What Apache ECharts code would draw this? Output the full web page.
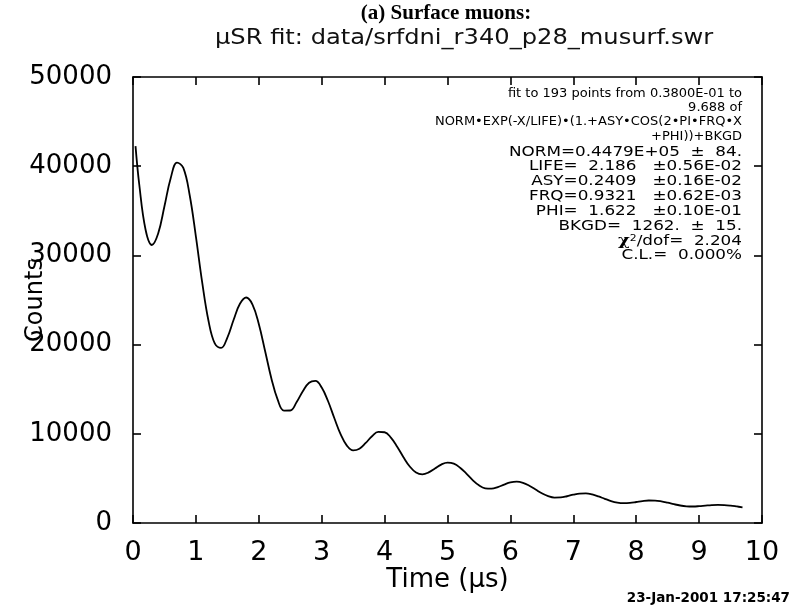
<!DOCTYPE html>
<html>
<head>
<meta charset="utf-8">
<script src="https://cdn.jsdelivr.net/npm/echarts@6/dist/echarts.min.js"></script>
<style>
html,body{margin:0;padding:0;background:#fff;}
#chart{width:795px;height:612px;}
</style>
</head>
<body>
<div id="chart"></div>
<script>
// Time (µs) of sampled points on the curve
const times = [0.04,0.1,0.2,0.3,0.4,0.5,0.6,0.7,0.8,0.9,
  1.0,1.1,1.2,1.3,1.4,1.5,1.6,1.7,1.8,1.9,
  2.0,2.1,2.2,2.3,2.4,2.5,2.6,2.7,2.8,2.9,
  3.0,3.1,3.2,3.3,3.4,3.5,3.6,3.7,3.8,3.9,
  4.0,4.1,4.2,4.3,4.4,4.5,4.6,4.7,4.8,4.9,
  5.0,5.1,5.2,5.3,5.4,5.5,5.6,5.7,5.8,5.9,
  6.0,6.1,6.2,6.3,6.4,6.5,6.6,6.7,6.8,6.9,
  7.0,7.1,7.2,7.3,7.4,7.5,7.6,7.7,7.8,7.9,
  8.0,8.1,8.2,8.3,8.4,8.5,8.6,8.7,8.8,8.9,
  9.0,9.1,9.2,9.3,9.4,9.5,9.6,9.69];
// Counts
const counts = [42258,37920,32880,31165,32452,35509,38678,40409,39806,36796,
  32115,26982,22678,20127,19623,20794,22789,24573,25278,24491,
  22308,19286,16209,13826,12605,12613,13529,14773,15728,15926,
  15193,13675,11766,9956,8673,8137,8320,8974,9725,10205,
  10173,9577,8554,7373,6332,5662,5462,5672,6111,6551,
  6765,6650,6202,5531,4814,4227,3893,3846,4026,4309,
  4550,4634,4505,4184,3754,3327,3005,2849,2863,2999,
  3174,3301,3318,3203,2984,2714,2464,2292,2226,2259,
  2354,2458,2520,2509,2419,2272,2106,1963,1875,1852,
  1886,1949,2008,2035,2015,1948,1853,1760];
const xTickLabels = ['0','1','2','3','4','5','6','7','8','9','10'];
const yTickLabels = ['0','10000','20000','30000','40000','50000'];
const fitLines = [
  'fit to 193 points from 0.3800E-01 to',
  '9.688 of',
  'NORM\u2022EXP(-X/LIFE)\u2022(1.+ASY\u2022COS(2\u2022PI\u2022FRQ\u2022X',
  '+PHI))+BKGD'
];
const paramLines = [
  'NORM=0.4479E+05  \u00b1  84.',
  'LIFE=  2.186   \u00b10.56E-02',
  'ASY=0.2409   \u00b10.16E-02',
  'FRQ=0.9321   \u00b10.62E-03',
  'PHI=  1.622   \u00b10.10E-01',
  'BKGD=  1262.  \u00b1  15.',
  '{b|\u03c7}{s|2}/dof=  2.204',
  'C.L.=  0.000%'
];

const chart = echarts.init(document.getElementById('chart'), null, {renderer:'canvas'});
const data = times.map((t,i)=>[t,counts[i]]);
const lab = 'DejaVu Sans';
function axisBase(){
  return {
    type:'value',
    axisLine:{show:true,onZero:false,lineStyle:{color:'#000',width:1.6}},
    axisTick:{show:true,inside:true,length:8,lineStyle:{color:'#000',width:1.6}},
    splitLine:{show:false}
  };
}
const textBlocks = [];
fitLines.forEach((s,i)=>{
  textBlocks.push({type:'text',x:742,y:87+i*14.3,scaleX:1.0,style:{text:s,x:0,y:0,font:'13px "DejaVu Sans"',fill:'#000',textAlign:'right'}});
});
paramLines.forEach((s,i)=>{
  textBlocks.push({type:'text',x:742,y:145+i*14.8,scaleX:1.2,style:{
    text:s,x:0,y:0,font:'14px "DejaVu Sans"',fill:'#000',textAlign:'right',
    rich:{b:{font:'bold 15px "DejaVu Serif"',fill:'#000'},s:{font:'9px "DejaVu Sans"',fill:'#000',verticalAlign:'top',padding:[0,0,6,0]}}
  }});
});

chart.setOption({
  backgroundColor:'#fff',
  animation:false,
  grid:{left:133,right:33,top:77,bottom:89,containLabel:false,outerBoundsMode:'none'},
  xAxis:[
    Object.assign(axisBase(),{min:0,max:10,interval:1,position:'bottom',
      name:'Time (\u03bcs)',nameLocation:'middle',nameGap:44,nameMoveOverlap:false,
      nameTextStyle:{fontFamily:lab,fontSize:26,color:'#000'},
      axisLabel:{show:true,margin:16,fontFamily:lab,fontSize:27,color:'#000',
        formatter:(v)=>xTickLabels[Math.round(v)]}}),
    Object.assign(axisBase(),{min:0,max:10,interval:1,position:'top',axisLabel:{show:false}})
  ],
  yAxis:[
    Object.assign(axisBase(),{min:0,max:50000,interval:10000,position:'left',
      name:'Counts',nameLocation:'middle',nameGap:85,nameRotate:90,nameMoveOverlap:false,
      nameTextStyle:{fontFamily:lab,fontSize:24,color:'#000'},
      axisLabel:{show:true,margin:21,fontFamily:lab,fontSize:26,color:'#000',
        formatter:(v)=>yTickLabels[Math.round(v/10000)]}}),
    Object.assign(axisBase(),{min:0,max:50000,interval:10000,position:'right',axisLabel:{show:false}})
  ],
  series:[{
    type:'line',data:data,smooth:0.4,showSymbol:false,
    lineStyle:{color:'#000',width:1.8},xAxisIndex:0,yAxisIndex:0
  }],
  graphic:[
    {type:'text',x:446,y:3,style:{text:'(a) Surface muons:',x:0,y:0,font:'bold 21px "Liberation Serif"',fill:'#000',textAlign:'center'}},
    {type:'text',x:215,y:28,scaleX:1.15,style:{text:'\u03bcSR fit: data/srfdni_r340_p28_musurf.swr',x:0,y:0,font:'21px "DejaVu Sans"',fill:'#111'}},
    {type:'text',x:790,y:591,style:{text:'23-Jan-2001 17:25:47',x:0,y:0,textAlign:'right',font:'bold 13.5px "DejaVu Sans"',fill:'#000'}}
  ].concat(textBlocks)
});
</script>
</body>
</html>
